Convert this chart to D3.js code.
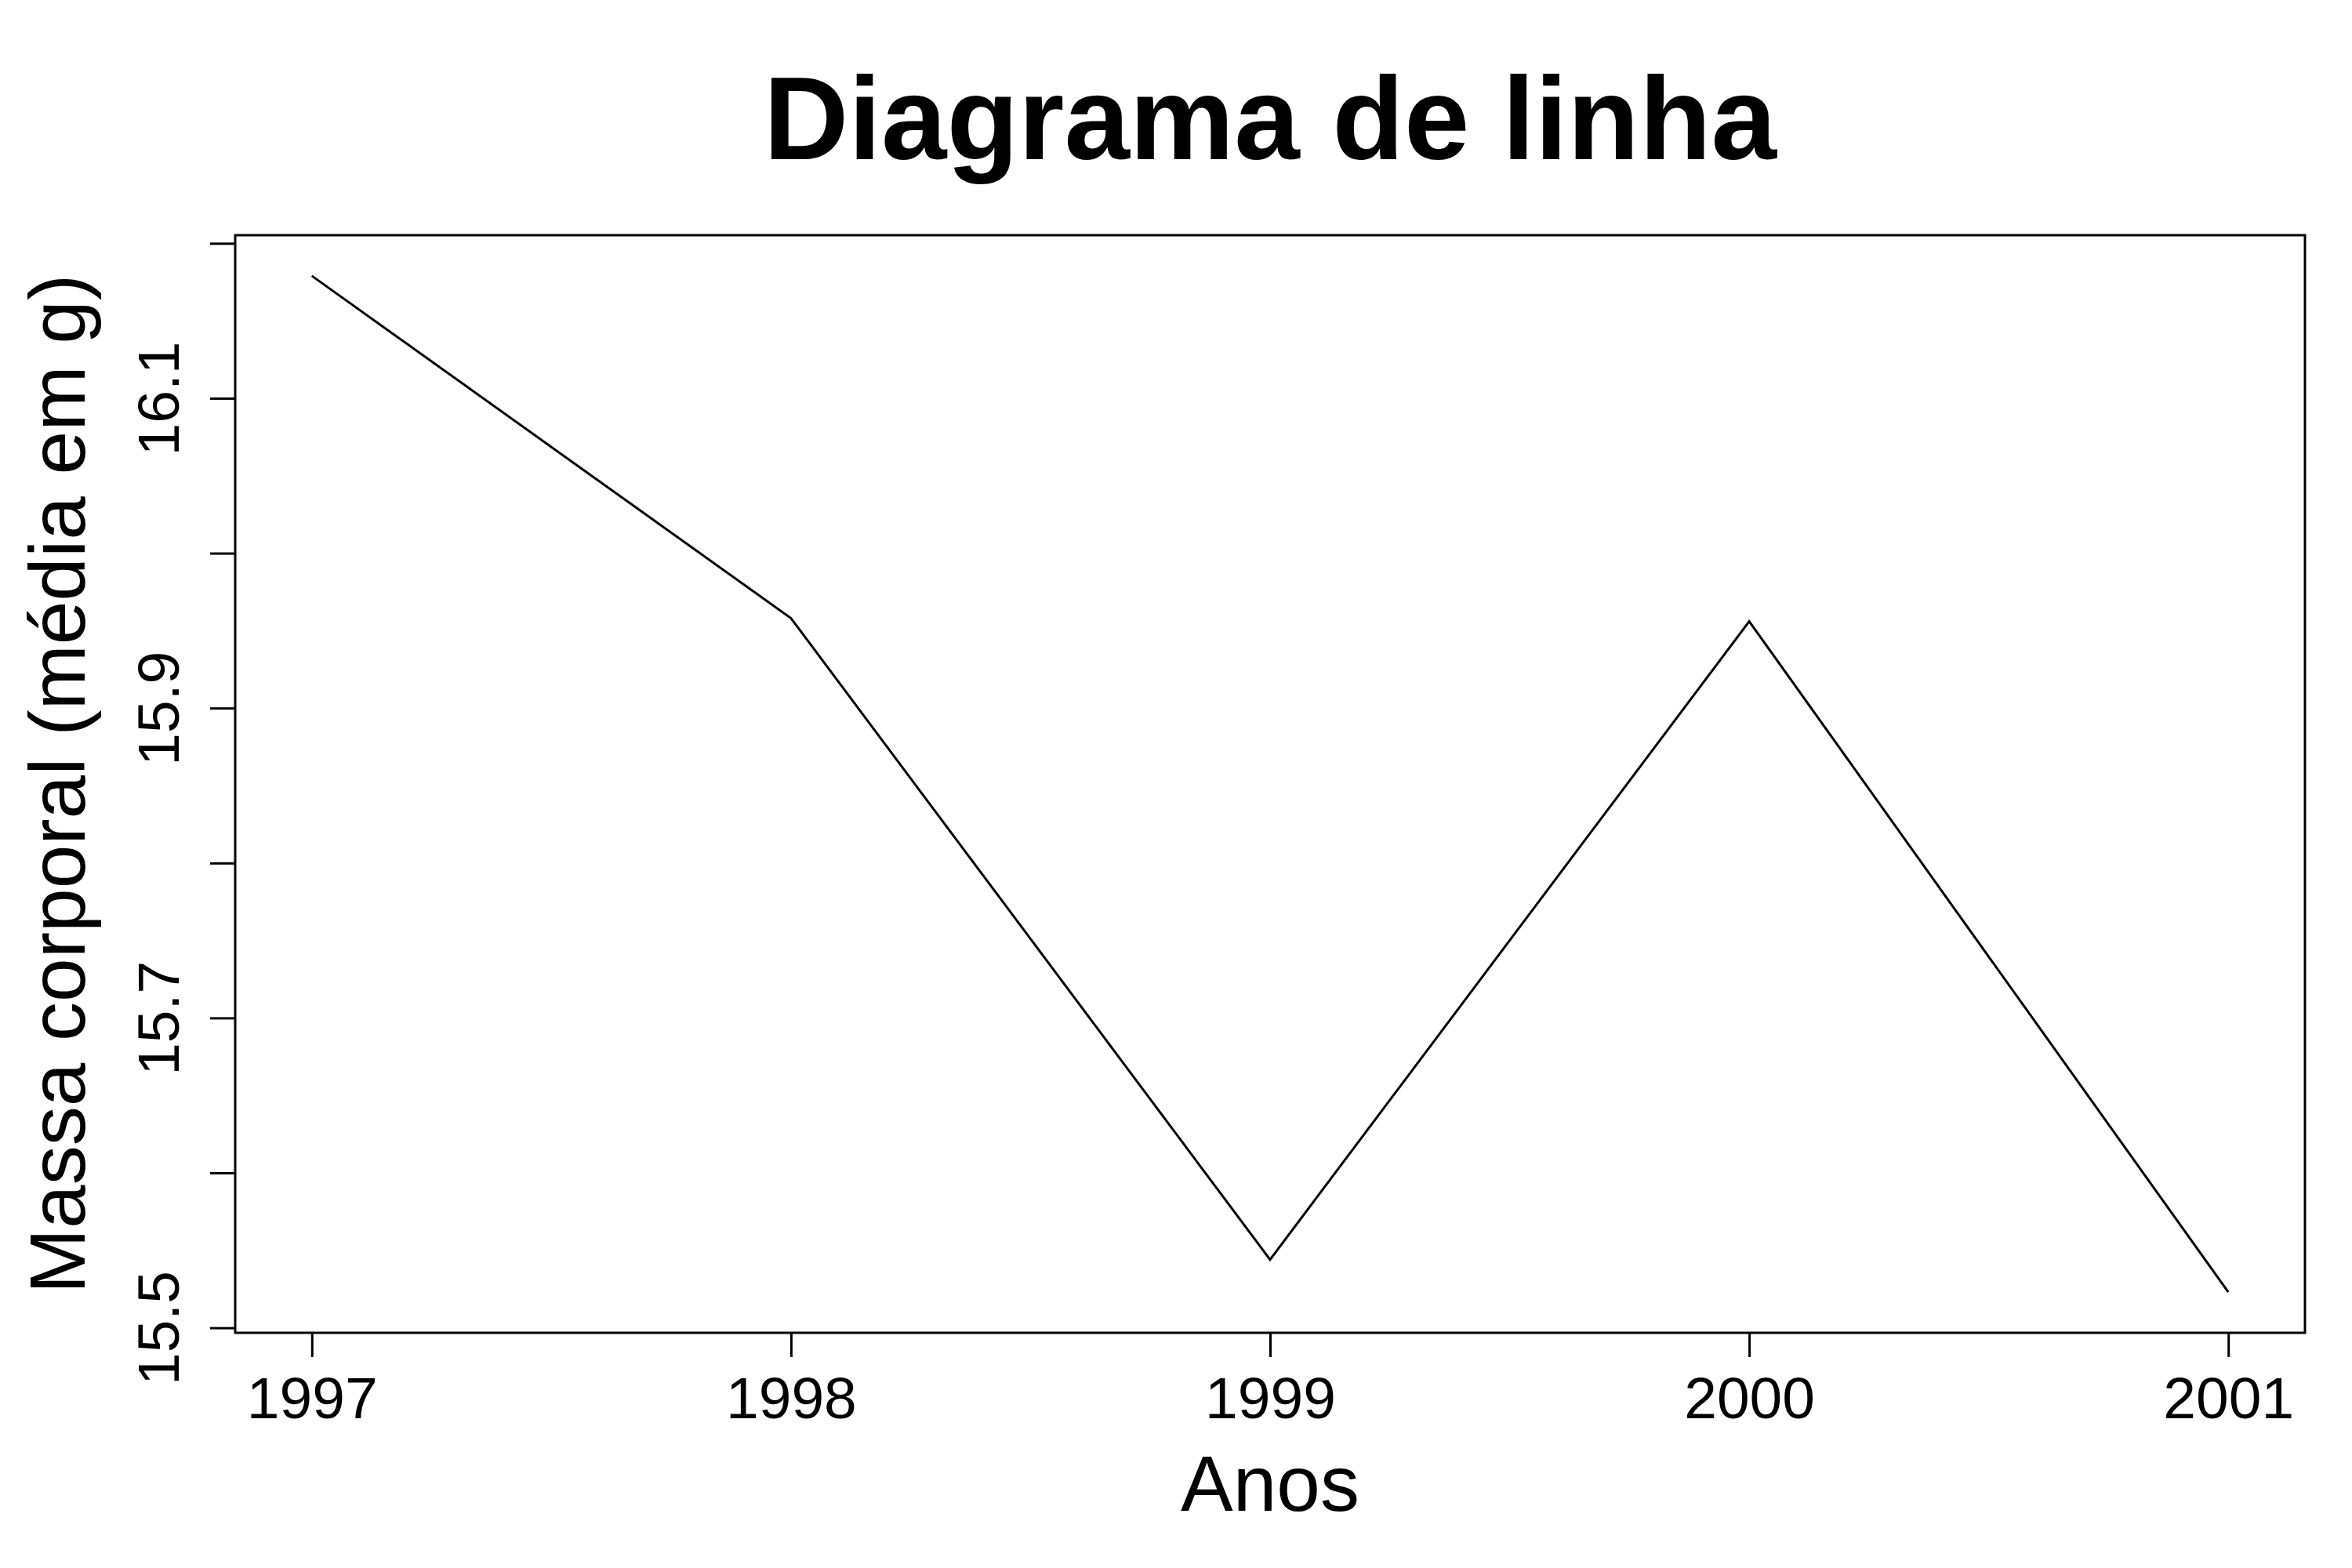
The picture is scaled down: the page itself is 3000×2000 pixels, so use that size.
<!DOCTYPE html>
<html>
<head>
<meta charset="utf-8">
<script src="https://cdn.jsdelivr.net/npm/d3@7"></script>
<style>
  body { margin: 0; background: #fff; }
  text { font-family: "Liberation Sans", Arial, Helvetica, sans-serif; fill: #000; }
</style>
</head>
<body>
<svg id="chart" width="3000" height="2000"></svg>
<script>
// data
const years = [1997, 1998, 1999, 2000, 2001];
const massa = [16.179, 15.958, 15.544, 15.956, 15.523];
const yTicks = [15.5, 15.6, 15.7, 15.8, 15.9, 16.0, 16.1, 16.2];
const yLabels = [15.5, 15.7, 15.9, 16.1];
const xTicks = [1997, 1998, 1999, 2000, 2001];

const width = 3000, height = 2000;
const margin = {top: 300, right: 60, bottom: 300, left: 300};
const plotW = width - margin.left - margin.right;
const plotH = height - margin.top - margin.bottom;

// R style 4% padding on each side
function padded(ext) {
  var d = (ext[1] - ext[0]) * 0.04;
  return [ext[0] - d, ext[1] + d];
}

const x = d3.scaleLinear().domain(padded(d3.extent(years))).range([0, plotW]);
const y = d3.scaleLinear().domain(padded(d3.extent(massa))).range([plotH, 0]);

const svg = d3.select('#chart');
svg.append('rect').attr('width', width).attr('height', height).attr('fill', '#fff');

const g = svg.append('g').attr('transform', 'translate(' + margin.left + ',' + margin.top + ')');

// line
const line = d3.line()
  .x(function(d) { return x(d[0]); })
  .y(function(d) { return y(d[1]); });

g.append('path')
  .datum(d3.zip(years, massa))
  .attr('fill', 'none')
  .attr('stroke', '#000')
  .attr('stroke-width', 3)
  .attr('d', line);

// box
g.append('rect')
  .attr('width', plotW).attr('height', plotH)
  .attr('fill', 'none').attr('stroke', '#000').attr('stroke-width', 3);

// x axis
const xAxis = g.append('g')
  .attr('transform', 'translate(0,' + plotH + ')')
  .call(d3.axisBottom(x).tickValues(xTicks).tickFormat(d3.format('d')).tickSize(31));
xAxis.select('.domain').remove();
xAxis.selectAll('.tick line').attr('stroke', '#000').attr('stroke-width', 3);
xAxis.selectAll('.tick text')
  .attr('y', 109).attr('dy', 0)
  .attr('font-size', 75)
  .attr('font-family', '"Liberation Sans", Arial, sans-serif');

// y axis
const yAxis = g.append('g')
  .call(d3.axisLeft(y).tickValues(yTicks).tickSize(32)
    .tickFormat(function(d) {
      return yLabels.some(function(v) { return Math.abs(v - d) < 1e-9; }) ? d3.format('.1f')(d) : '';
    }));
yAxis.select('.domain').remove();
yAxis.selectAll('.tick line').attr('stroke', '#000').attr('stroke-width', 3);
yAxis.selectAll('.tick text')
  .attr('transform', 'rotate(-90)')
  .attr('x', 0).attr('y', -72).attr('dy', 0)
  .attr('text-anchor', 'middle')
  .attr('font-size', 75)
  .attr('font-family', '"Liberation Sans", Arial, sans-serif');

// title
svg.append('text')
  .attr('x', margin.left + plotW / 2).attr('y', 203)
  .attr('text-anchor', 'middle')
  .attr('font-size', 150).attr('font-weight', 'bold')
  .text('Diagrama de linha');

// axis titles
svg.append('text')
  .attr('x', margin.left + plotW / 2).attr('y', 1927)
  .attr('text-anchor', 'middle')
  .attr('font-size', 100)
  .text('Anos');

svg.append('text')
  .attr('transform', 'translate(108,' + (margin.top + plotH / 2) + ') rotate(-90)')
  .attr('text-anchor', 'middle')
  .attr('font-size', 100)
  .text('Massa corporal (média em g)');
</script>
</body>
</html>
